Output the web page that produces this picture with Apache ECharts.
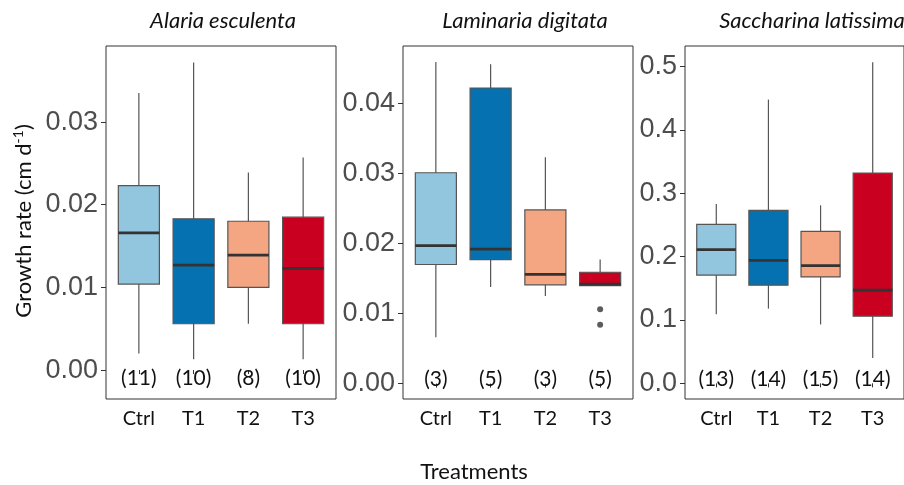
<!DOCTYPE html>
<html>
<head>
<meta charset="utf-8">
<script src="https://cdn.jsdelivr.net/npm/echarts@6/dist/echarts.min.js"></script>
<style>
  html, body { margin: 0; padding: 0; background: #fff; }
  #main { width: 904px; height: 485px; }
</style>
</head>
<body>
<div id="main"></div>
<script>
// treatments on the x axis of every panel
const treatments = ['Ctrl', 'T1', 'T2', 'T3'];

// five-number summaries: [min, Q1, median, Q3, max]
const alariaStats = [
  [0.0020, 0.0104, 0.0166, 0.0223, 0.0335],
  [0.0013, 0.0056, 0.0127, 0.0183, 0.0372],
  [0.0056, 0.0100, 0.0139, 0.0180, 0.0239],
  [0.0013, 0.0056, 0.0123, 0.0185, 0.0257]
];
const alariaN = [11, 10, 8, 10];
const alariaTicks = [0, 0.01, 0.02, 0.03];

const laminariaStats = [
  [0.0066, 0.0170, 0.0197, 0.0301, 0.0459],
  [0.0138, 0.0177, 0.0192, 0.0422, 0.0456],
  [0.0125, 0.0141, 0.0156, 0.0248, 0.0323],
  [0.0140, 0.0140, 0.0142, 0.0159, 0.0177]
];
const laminariaN = [3, 5, 3, 5];
const laminariaOutlierGroup = 'T3';
const laminariaOutliers = [0.0106, 0.0084];
const laminariaTicks = [0, 0.01, 0.02, 0.03, 0.04];

const saccharinaStats = [
  [0.109, 0.171, 0.211, 0.251, 0.283],
  [0.118, 0.155, 0.194, 0.273, 0.448],
  [0.093, 0.168, 0.186, 0.240, 0.281],
  [0.040, 0.106, 0.147, 0.332, 0.507]
];
const saccharinaN = [13, 14, 15, 14];
const saccharinaTicks = [0, 0.1, 0.2, 0.3, 0.4, 0.5];

const boxColors = ['#92c5de', '#0571b0', '#f4a582', '#ca0020'];

// panel layout
const panels = [
  { title: 'Alaria esculenta', stats: alariaStats, n: alariaN, ticks: alariaTicks, digits: 2,
    left: 106, min: -0.0035, max: 0.0392, nAt: -0.0010, titleX: 218 },
  { title: 'Laminaria digitata', stats: laminariaStats, n: laminariaN, ticks: laminariaTicks, digits: 2,
    left: 403, min: -0.0022, max: 0.0482, nAt: 0.0006, titleX: 520 },
  { title: 'Saccharina latissima', stats: saccharinaStats, n: saccharinaN, ticks: saccharinaTicks, digits: 1,
    left: 685, min: -0.0247, max: 0.5326, nAt: 0.0063, titleX: 807 }
];

const calibriLike = 'Lato, "Open Sans", sans-serif';

// box + whisker drawn through the axes (ggplot style, no whisker caps)
function renderBox(params, api) {
  const x = api.value(0);
  const lo = api.coord([x, api.value(1)]);
  const q1 = api.coord([x, api.value(2)]);
  const md = api.coord([x, api.value(3)]);
  const q3 = api.coord([x, api.value(4)]);
  const hi = api.coord([x, api.value(5)]);
  const w = api.size([0.75, 0])[0];
  const cx = lo[0];
  return {
    type: 'group',
    children: [
      { type: 'line', shape: { x1: cx, y1: hi[1], x2: cx, y2: lo[1] },
        style: { stroke: '#555', lineWidth: 1.2 } },
      { type: 'rect', shape: { x: cx - w / 2, y: q3[1], width: w, height: q1[1] - q3[1] },
        style: { fill: boxColors[params.dataIndex], stroke: '#555', lineWidth: 1.2 } },
      { type: 'line', shape: { x1: cx - w / 2, y1: md[1], x2: cx + w / 2, y2: md[1] },
        style: { stroke: '#333', lineWidth: 2.8 } }
    ]
  };
}

// sample-size label, drawn at its data position
function renderCount(params, api) {
  const pos = api.coord([api.value(0), api.value(1)]);
  return {
    type: 'text', x: pos[0], y: pos[1],
    style: {
      text: '(' + api.value(2) + ')', align: 'center', verticalAlign: 'middle',
      fill: '#111', fontSize: 21, fontFamily: calibriLike
    }
  };
}

const grid = [], xAxis = [], yAxis = [], series = [], title = [];

panels.forEach(function (p, i) {
  grid.push({
    left: p.left, top: 46, width: 230, height: 353,
    show: true, borderColor: '#333', borderWidth: 1, backgroundColor: '#fff'
  });
  xAxis.push({
    type: 'value', gridIndex: i, min: 0.4, max: 4.6,
    axisLine: { show: false },
    splitLine: { show: false },
    axisTick: { show: true, customValues: [1, 2, 3, 4], length: 4, lineStyle: { color: '#333' } },
    axisLabel: {
      customValues: [1, 2, 3, 4],
      formatter: function (v) { return treatments[Math.round(v) - 1]; },
      color: '#111', fontSize: 20, fontFamily: calibriLike, margin: 10
    }
  });
  yAxis.push({
    type: 'value', gridIndex: i, min: p.min, max: p.max,
    axisLine: { show: false },
    splitLine: { show: false },
    axisTick: { show: true, customValues: p.ticks, length: 5, lineStyle: { color: '#333' } },
    axisLabel: {
      customValues: p.ticks,
      formatter: function (v) { return v.toFixed(p.digits); },
      color: '#4d4d4d', fontSize: 27, fontFamily: '"Liberation Sans", Arial, sans-serif', margin: 8
    }
  });
  series.push({
    type: 'custom', xAxisIndex: i, yAxisIndex: i,
    renderItem: renderBox,
    encode: { x: 0, y: [1, 2, 3, 4, 5] },
    data: p.stats.map(function (s, k) { return [k + 1].concat(s); }),
    silent: true
  });
  series.push({
    type: 'custom', xAxisIndex: i, yAxisIndex: i,
    renderItem: renderCount,
    encode: { x: 0, y: 1 },
    data: p.n.map(function (n, k) { return [k + 1, p.nAt, n]; }),
    silent: true
  });
  title.push({
    text: p.title, left: p.titleX, top: 5, textAlign: 'center',
    textStyle: { fontSize: 22, fontStyle: 'italic', fontWeight: 'normal', color: '#111', fontFamily: calibriLike }
  });
});

// outliers of the Laminaria panel
series.push({
  type: 'scatter', xAxisIndex: 1, yAxisIndex: 1,
  symbol: 'circle', symbolSize: 6,
  itemStyle: { color: '#333' },
  data: laminariaOutliers.map(function (v) { return [treatments.indexOf(laminariaOutlierGroup) + 1, v]; }),
  silent: true
});

title.push({
  text: 'Treatments', left: 469, top: 456, textAlign: 'center',
  textStyle: { fontSize: 22, fontWeight: 'normal', color: '#111', fontFamily: calibriLike }
});

const option = {
  animation: false,
  backgroundColor: '#fff',
  title: title,
  grid: grid,
  xAxis: xAxis,
  yAxis: yAxis,
  series: series,
  graphic: [{
    type: 'text', x: 24, y: 221, rotation: Math.PI / 2,
    style: {
      text: 'Growth rate (cm d{sup|-1})',
      align: 'center', verticalAlign: 'middle',
      fill: '#111', fontSize: 22, fontFamily: calibriLike, lineHeight: 26,
      rich: { sup: { fontSize: 14, lineHeight: 14, verticalAlign: 'top', fill: '#111', fontFamily: calibriLike } }
    }
  }]
};

const chartDom = document.getElementById('main');
const myChart = echarts.init(chartDom);
myChart.setOption(option);
</script>
</body>
</html>
